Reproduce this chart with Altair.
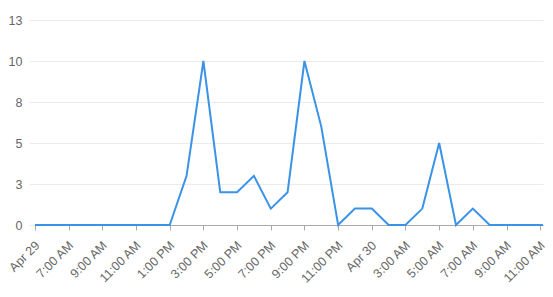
import altair as alt
import pandas as pd

times = [
    "2024-04-29T05:00:00Z", "2024-04-29T06:00:00Z", "2024-04-29T07:00:00Z", "2024-04-29T08:00:00Z",
    "2024-04-29T09:00:00Z", "2024-04-29T10:00:00Z", "2024-04-29T11:00:00Z", "2024-04-29T12:00:00Z",
    "2024-04-29T13:00:00Z", "2024-04-29T14:00:00Z", "2024-04-29T15:00:00Z", "2024-04-29T16:00:00Z",
    "2024-04-29T17:00:00Z", "2024-04-29T18:00:00Z", "2024-04-29T19:00:00Z", "2024-04-29T20:00:00Z",
    "2024-04-29T21:00:00Z", "2024-04-29T22:00:00Z", "2024-04-29T23:00:00Z", "2024-04-30T00:00:00Z",
    "2024-04-30T01:00:00Z", "2024-04-30T02:00:00Z", "2024-04-30T03:00:00Z", "2024-04-30T04:00:00Z",
    "2024-04-30T05:00:00Z", "2024-04-30T06:00:00Z", "2024-04-30T07:00:00Z", "2024-04-30T08:00:00Z",
    "2024-04-30T09:00:00Z", "2024-04-30T10:00:00Z", "2024-04-30T11:00:00Z", "2024-04-30T11:10:00Z",
]
counts = [0, 0, 0, 0, 0, 0, 0, 0, 0, 3, 10, 2, 2, 3, 1, 2, 10, 6, 0, 1, 1, 0, 0, 1, 5, 0, 1, 0, 0, 0, 0, 0]

tick_times = [
    "2024-04-29T05:00:00Z", "2024-04-29T07:00:00Z", "2024-04-29T09:00:00Z", "2024-04-29T11:00:00Z",
    "2024-04-29T13:00:00Z", "2024-04-29T15:00:00Z", "2024-04-29T17:00:00Z", "2024-04-29T19:00:00Z",
    "2024-04-29T21:00:00Z", "2024-04-29T23:00:00Z", "2024-04-30T01:00:00Z", "2024-04-30T03:00:00Z",
    "2024-04-30T05:00:00Z", "2024-04-30T07:00:00Z", "2024-04-30T09:00:00Z", "2024-04-30T11:00:00Z",
]
y_ticks = [0, 2.5, 5, 7.5, 10, 12.5]

df = pd.DataFrame({"time": times, "count": counts})

tick_vals = [alt.DateTime(year=int(t[0:4]), month=int(t[5:7]), date=int(t[8:10]),
                          hours=int(t[11:13]), utc=True) for t in tick_times]

label_expr = ("(utchours(datum.value) == 5 && utcdate(datum.value) == 29) || utchours(datum.value) == 1"
              " ? utcFormat(datum.value, '%b %-d') : utcFormat(datum.value, '%-I:%M %p')")

chart = alt.Chart(df).mark_line(color="#3a93e6", strokeWidth=2).encode(
    x=alt.X("time:T", title=None,
            scale=alt.Scale(type="utc", domain=[times[0], times[-1]], nice=False),
            axis=alt.Axis(values=tick_vals, labelExpr=label_expr, labelAngle=-45,
                          labelAlign="right", labelBaseline="middle",
                          labelOverlap=False, labelFlush=False, labelBound=False,
                          grid=False, domainColor="#aaaaaa", tickColor="#aaaaaa",
                          tickSize=5, labelPadding=13, labelOffset=2, labelColor="#666666",
                          labelFontSize=12.5, labelFont="Liberation Sans")),
    y=alt.Y("count:Q", title=None,
            scale=alt.Scale(domain=[0, 12.5], nice=False),
            axis=alt.Axis(values=y_ticks, format=".0f", domain=False,
                          tickColor="#ebebeb", tickSize=6, gridColor="#ebebeb",
                          labelColor="#666666", labelFontSize=12.5, labelPadding=7,
                          labelFont="Liberation Sans")),
).properties(
    width=508, height=205,
    autosize=alt.AutoSizeParams(type="none"),
    padding={"left": 35, "top": 20, "right": 10, "bottom": 72},
).configure_view(stroke=None)

chart.save("out.html", embed_options={"renderer": "svg", "actions": False})
